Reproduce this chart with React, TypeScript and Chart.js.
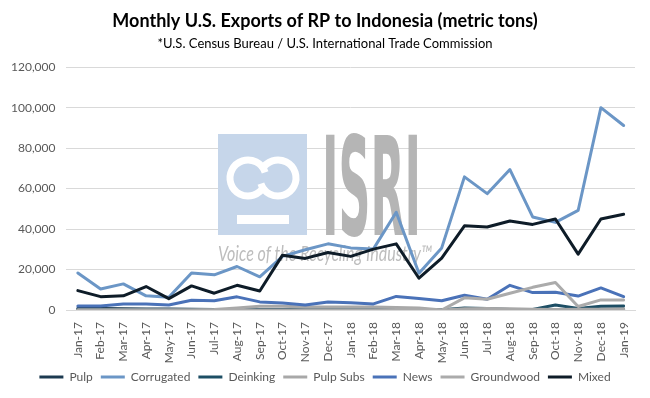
import React, { useEffect, useRef } from "react";
import { Chart, registerables } from "chart.js";

Chart.register(...registerables);

const months = [
  "Jan-17", "Feb-17", "Mar-17", "Apr-17", "May-17", "Jun-17", "Jul-17", "Aug-17", "Sep-17", "Oct-17", "Nov-17", "Dec-17",
  "Jan-18", "Feb-18", "Mar-18", "Apr-18", "May-18", "Jun-18", "Jul-18", "Aug-18", "Sep-18", "Oct-18", "Nov-18", "Dec-18",
  "Jan-19",
];

const pulp = [800, 700, 600, 500, 500, 400, 300, 300, 200, 200, 200, 200, 100, 100, 0, 0, 0, 200, 200, 100, 100, 300, 300, 400, 500];
const corrugated = [18300, 10400, 12900, 7000, 6300, 18300, 17400, 21500, 16400, 26500, 29800, 32700, 30700, 30200, 48300, 18200, 30700, 65800, 57500, 69400, 46000, 43300, 49200, 100000, 91200];
const deinking = [200, 200, 200, 200, 200, 200, 200, 200, 100, 100, 100, 100, 100, 100, 100, 100, 100, 1000, 800, 300, 300, 2500, 800, 1800, 2000];
const pulpSubs = [0, 0, 0, 0, 0, 0, 300, 1000, 1800, 1800, 1500, 1500, 1500, 1500, 1200, 1000, 0, 600, 800, 600, 400, 200, 400, 400, 500];
const news = [2000, 2000, 3000, 3000, 2500, 4800, 4600, 6500, 4000, 3500, 2500, 4000, 3600, 3000, 6700, 5700, 4600, 7300, 5300, 12200, 8600, 8800, 6900, 10900, 6600];
const groundwood = [0, 0, 0, 0, 0, 0, 0, 0, 0, 0, 0, 0, 0, 0, 0, 0, 0, 6000, 5300, 8300, 11200, 13600, 1700, 5000, 5000];
const mixed = [9600, 6600, 7000, 11600, 5600, 11900, 8300, 12200, 9400, 27100, 25500, 28400, 26500, 30100, 32700, 15700, 25600, 41600, 41000, 44000, 42300, 45000, 27600, 45000, 47300];

const seriesNames = ["Pulp", "Corrugated", "Deinking", "Pulp Subs", "News", "Groundwood", "Mixed"];
const seriesValues = [pulp, corrugated, deinking, pulpSubs, news, groundwood, mixed];
const seriesColors = ["#1C3A50", "#6B96C6", "#1D4E64", "#A8A8A8", "#4A72B8", "#ABABAB", "#0E1C28"];

const yTicks = { min: 0, max: 120000, step: 20000 };

const FONT = "Lato, 'Open Sans', sans-serif";

const watermark = {
  id: "isriWatermark",
  beforeDatasetsDraw(chart: any) {
    const ctx = chart.ctx as CanvasRenderingContext2D;
    ctx.save();
    // blue square
    ctx.fillStyle = "#C6D6EA";
    ctx.fillRect(218, 134, 89, 101);
    // white interlocking rings
    ctx.strokeStyle = "#FFFFFF";
    ctx.lineWidth = 7;
    ctx.beginPath();
    ctx.arc(248, 178, 18, 0.15 * Math.PI, 1.9 * Math.PI);
    ctx.stroke();
    ctx.beginPath();
    ctx.arc(278, 178, 18, 1.15 * Math.PI, 0.9 * Math.PI);
    ctx.stroke();
    ctx.fillStyle = "#FFFFFF";
    ctx.fillRect(237, 215, 52, 9);
    // ISRI letters
    ctx.fillStyle = "#B5B5B5";
    ctx.font = "bold 138px 'DejaVu Sans Condensed', 'DejaVu Sans', sans-serif";
    ctx.textBaseline = "alphabetic";
    ctx.textAlign = "left";
    const w = ctx.measureText("ISRI").width;
    ctx.save();
    ctx.translate(322, 235);
    ctx.scale(99 / w, 1);
    ctx.fillText("ISRI", 0, 0);
    ctx.restore();
    // tagline
    ctx.fillStyle = "#BDBDBD";
    ctx.font = "italic 22px " + FONT;
    const t = "Voice of the Recycling Industry\u2122";
    const tw = ctx.measureText(t).width;
    ctx.save();
    ctx.translate(218, 261);
    ctx.scale(214 / tw, 1);
    ctx.fillText(t, 0, 0);
    ctx.restore();
    ctx.restore();
  },
};

export default function App() {
  const ref = useRef<HTMLCanvasElement>(null);

  useEffect(() => {
    document.body.style.margin = "0";
    const canvas = ref.current;
    if (!canvas) return;
    const chart = new Chart(canvas, {
      type: "line",
      data: {
        labels: months,
        datasets: seriesNames.map((name, i) => ({
          label: name,
          data: seriesValues[i],
          borderColor: seriesColors[i],
          backgroundColor: seriesColors[i],
          borderWidth: 3,
          pointRadius: 0,
          pointHoverRadius: 0,
          tension: 0,
          borderJoinStyle: "round" as const,
          borderCapStyle: "round" as const,
          fill: false,
          order: seriesNames.length - 1 - i,
        })),
      },
      options: {
        responsive: false,
        animation: false,
        layout: { padding: { left: 0, right: 0, top: 0, bottom: 5 } },
        plugins: {
          title: {
            display: true,
            text: "Monthly U.S. Exports of RP to Indonesia (metric tons)",
            font: { family: FONT, size: 18, weight: "bold" },
            color: "#000000",
            padding: { top: 10, bottom: 4 },
          },
          subtitle: {
            display: true,
            text: "*U.S. Census Bureau / U.S. International Trade Commission",
            font: { family: FONT, size: 13 },
            color: "#000000",
            padding: { top: 0, bottom: 16 },
          },
          legend: {
            position: "bottom",
            labels: {
              usePointStyle: true,
              pointStyle: "line",
              pointStyleWidth: 24,
              font: { family: FONT, size: 12 },
              color: "#595959",
              padding: 8,
              sort: (a: any, b: any) => a.datasetIndex - b.datasetIndex,
            },
          },
          tooltip: { enabled: false },
        },
        scales: {
          x: {
            offset: true,
            grid: { display: false },
            border: { color: "#D9D9D9", width: 1 },
            ticks: {
              minRotation: 90,
              maxRotation: 90,
              autoSkip: false,
              font: { family: FONT, size: 12 },
              color: "#595959",
              padding: 4,
            },
            afterFit: (scale: any) => {
              scale.height = 53;
              scale.paddingRight = 15;
            },
          },
          y: {
            min: yTicks.min,
            max: yTicks.max,
            grid: { color: "#D9D9D9", drawTicks: false },
            border: { display: false },
            ticks: {
              stepSize: yTicks.step,
              font: { family: FONT, size: 12 },
              color: "#595959",
              padding: 11,
              callback: (v: any) => Number(v).toLocaleString("en-US"),
            },
          },
        },
      },
      plugins: [watermark],
    });
    return () => chart.destroy();
  }, []);

  return (
    <div style={{ width: 650, height: 398 }}>
      <canvas ref={ref} width={650} height={398} style={{ width: 650, height: 398, display: "block" }} />
    </div>
  );
}
